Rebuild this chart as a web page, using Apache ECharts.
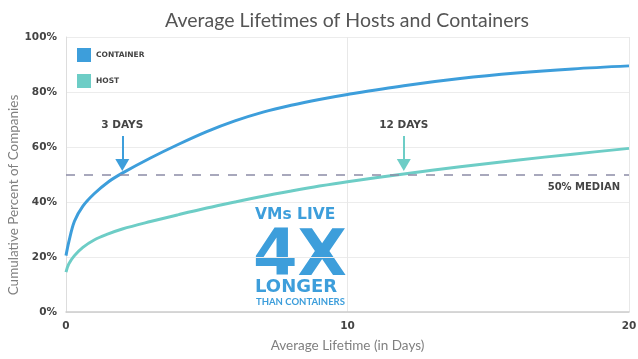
<!DOCTYPE html>
<html><head><meta charset="utf-8">
<script src="https://cdn.jsdelivr.net/npm/echarts@6/dist/echarts.min.js"></script>
<style>html,body{margin:0;padding:0;background:#fff}#c{width:638px;height:359px}</style>
</head><body><div id="c"></div>
<script>
const days = [0, 0.1, 0.3, 0.6, 1, 1.5, 2, 3, 4, 5, 6, 7, 8, 9, 10, 12, 14, 16, 18, 20];
const containerPct = [20.5, 25.5, 33, 38.5, 43, 47.3, 50.5, 56, 61, 65.6, 69.5, 72.7, 75.2, 77.3, 79.1, 82.3, 84.9, 86.9, 88.4, 89.5];
const hostPct = [14.5, 17.5, 20.5, 23.5, 26.2, 28.4, 30.2, 32.9, 35.4, 37.8, 40, 42.1, 44, 45.8, 47.4, 50.2, 52.8, 55.2, 57.4, 59.5];
const xTicks = [0, 10, 20];
const yTicks = [0, 20, 40, 60, 80, 100];
const medianPct = 50;
const containerDay = 2, hostDay = 12;
const yAxisName = 'Cumulative Percent of Companies';

const cBlue = '#3d9edb', cTeal = '#6dcdc6';
const tickFont = 'DejaVu Sans';
const chart = echarts.init(document.getElementById('c'));
const pairs = (xs, ys) => xs.map((x, i) => [x, ys[i]]);
const arrow = (x, color) => ({
  silent: true, symbol: ['none', 'triangle'], symbolSize: [14, 12],
  lineStyle: { color: color, width: 2, type: 'solid' },
  label: { show: true, position: 'start', formatter: x === containerDay ? '3 DAYS' : '12 DAYS',
    color: '#444', fontWeight: 'bold', fontSize: 10.5, fontFamily: tickFont, distance: 5 },
  data: [[{ coord: [x, 64] }, { coord: [x, 53.5] }]]
});
chart.setOption({
  animation: false,
  title: { text: 'Average Lifetimes of Hosts and Containers', left: 342, textAlign: 'center', top: 6,
    textStyle: { fontFamily: 'Lato', fontSize: 19.5, fontWeight: 'normal', color: '#555' } },
  grid: { left: 66, right: 9, top: 37, bottom: 47, outerBoundsMode: 'none', containLabel: false },
  legend: { orient: 'vertical', left: 72, top: 43, itemWidth: 14, itemHeight: 14, itemGap: 12,
    icon: 'rect', textStyle: { fontFamily: tickFont, fontSize: 7.5, fontWeight: 'bold', color: '#444' },
    data: ['CONTAINER', 'HOST'] },
  xAxis: { type: 'value', min: 0, max: 20, interval: 10,
    name: 'Average Lifetime (in Days)', nameLocation: 'middle', nameGap: 27,
    nameTextStyle: { fontFamily: 'Lato', fontSize: 13.5, color: '#808080' },
    axisLine: { show: true, lineStyle: { color: '#ccc', width: 1.5 } }, axisTick: { show: false },
    axisLabel: { fontFamily: tickFont, fontWeight: 'bold', fontSize: 10.5, color: '#444', margin: 9,
      formatter: v => xTicks.includes(v) ? String(v) : '' },
    splitLine: { show: true, lineStyle: { color: '#e8e8e8' } } },
  yAxis: { type: 'value', min: 0, max: 100, interval: 20,
    axisLine: { show: true, lineStyle: { color: '#ddd' } }, axisTick: { show: false },
    axisLabel: { fontFamily: tickFont, fontWeight: 'bold', fontSize: 10.5, color: '#444', margin: 9,
      formatter: v => yTicks.includes(v) ? v + '%' : '' },
    splitLine: { show: true, lineStyle: { color: '#ececec' } } },
  series: [
    { name: 'CONTAINER', type: 'line', smooth: 0.35, showSymbol: false, data: pairs(days, containerPct),
      itemStyle: { color: cBlue }, lineStyle: { color: cBlue, width: 3 }, z: 3,
      markLine: arrow(containerDay, cBlue) },
    { name: 'HOST', type: 'line', smooth: 0.35, showSymbol: false, data: pairs(days, hostPct),
      itemStyle: { color: cTeal }, lineStyle: { color: cTeal, width: 3 }, z: 3,
      markLine: arrow(hostDay, cTeal) },
    { name: 'median', type: 'line', data: [], silent: true,
      markLine: { silent: true, symbol: 'none', lineStyle: { color: '#8c8ca6', width: 1.5, type: [9, 9] },
        label: { show: true, position: 'insideEndBottom', formatter: '50% MEDIAN', color: '#444',
          fontFamily: tickFont, fontWeight: 'bold', fontSize: 10, distance: [9, 8] },
        data: [{ yAxis: medianPct }] } }
  ],
  graphic: [
    { type: 'text', x: 14, y: 195, rotation: Math.PI / 2,
      style: { text: yAxisName, fill: '#808080', font: '13.5px Lato', align: 'center', verticalAlign: 'middle' } },
    { type: 'text', left: 255, top: 207, style: { text: 'VMs LIVE', fill: cBlue, font: 'bold 15.5px "DejaVu Sans"' } },
    { type: 'text', left: 253, top: 226, style: { text: '4X', fill: cBlue, font: 'bold 64px "DejaVu Sans"' } },
    { type: 'text', left: 255, top: 278, style: { text: 'LONGER', fill: cBlue, font: 'bold 18px "DejaVu Sans"' } },
    { type: 'text', left: 256, top: 297, style: { text: 'THAN CONTAINERS', fill: cBlue, font: 'bold 9.5px Lato' } }
  ]
});
</script></body></html>
